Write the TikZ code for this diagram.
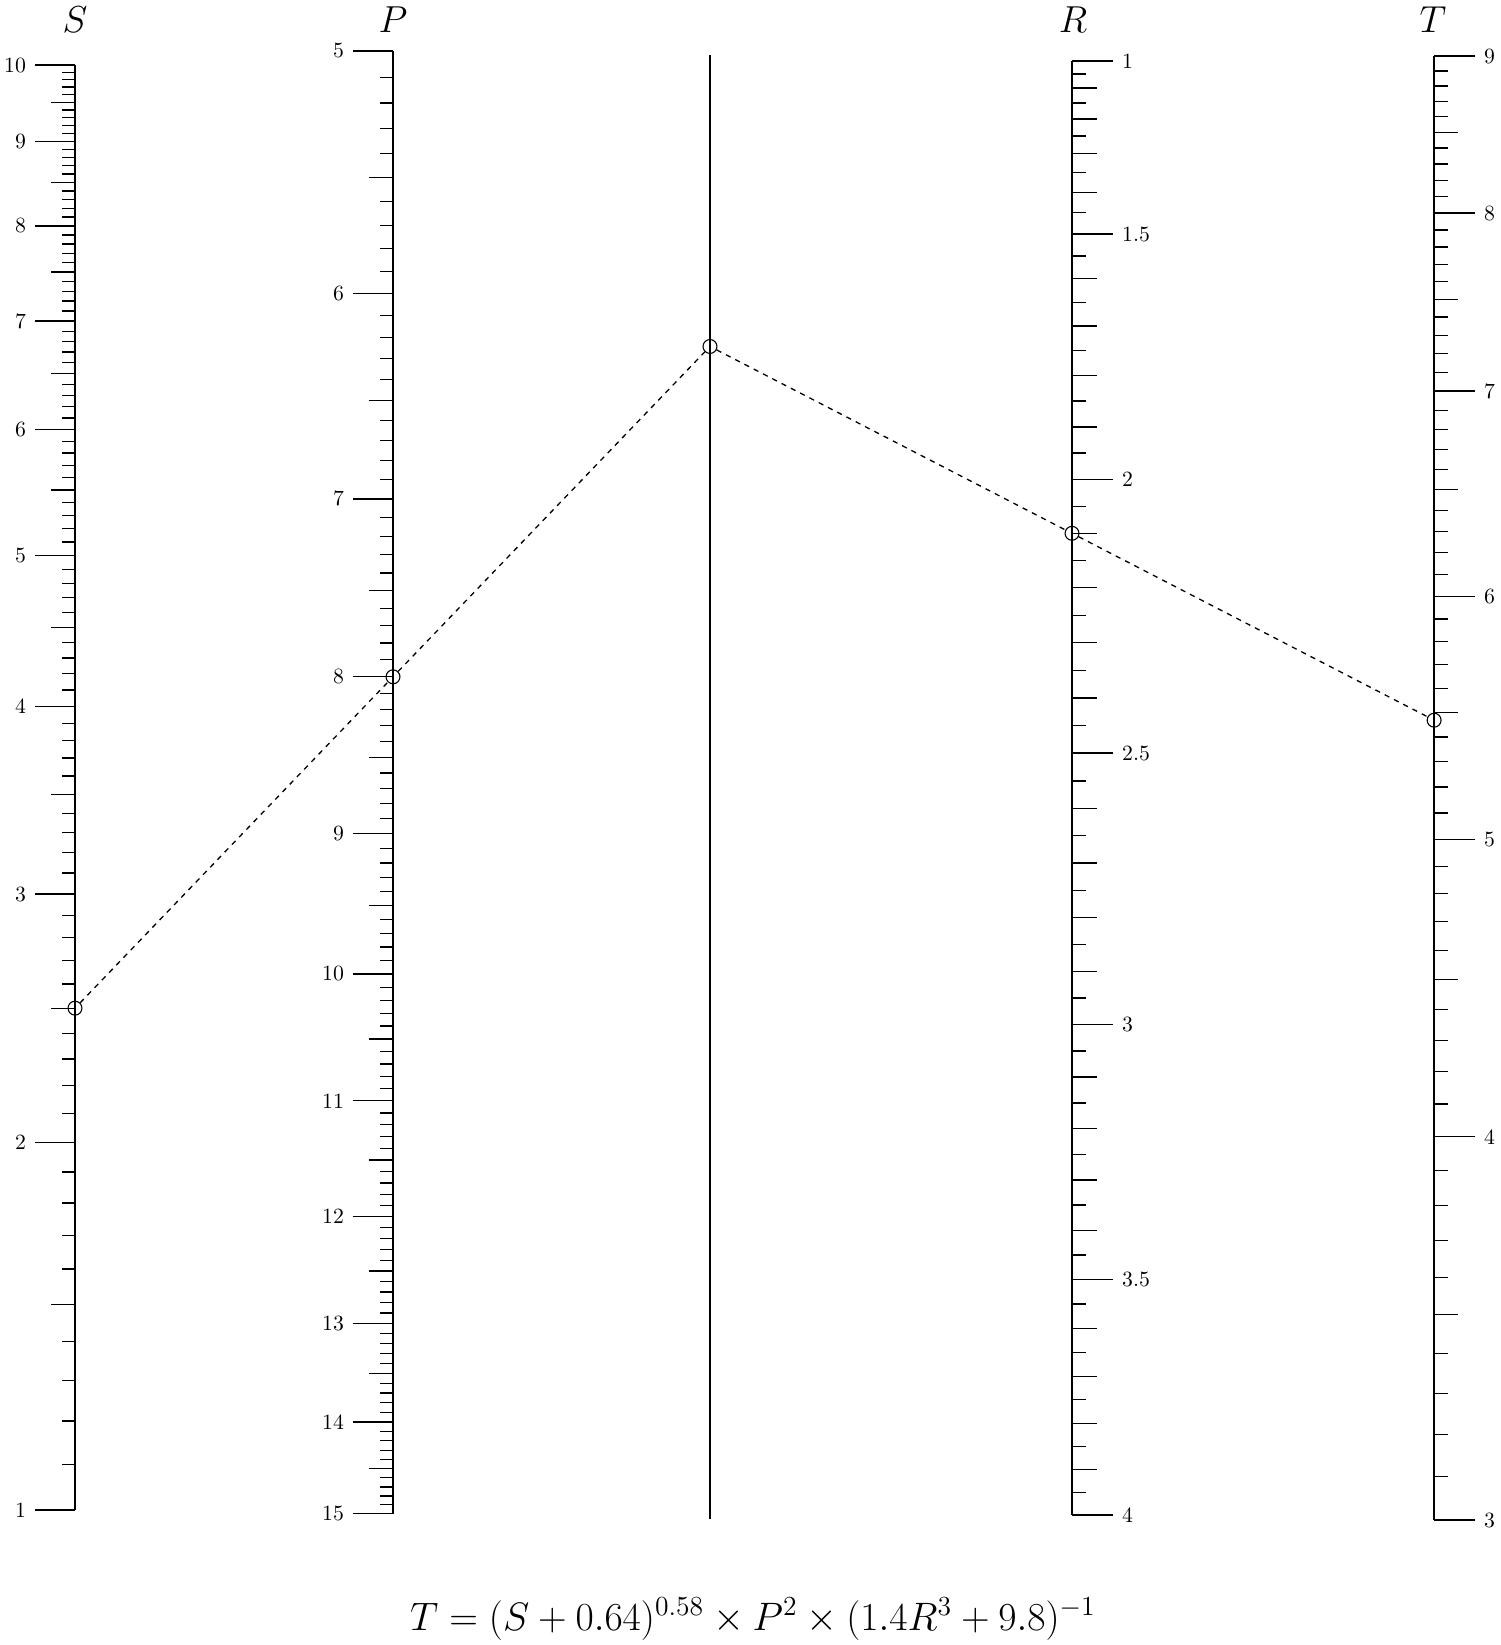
\documentclass[tikz,border=0pt]{standalone}
\usepackage{tikz}
\usepackage{graphicx}

% scale positions (pixels, measured downward)
\pgfmathdeclarefunction{ys}{1}{\pgfmathparse{1510-(log10(#1+0.64)-0.21484)/0.81210*1445}}
\pgfmathdeclarefunction{yp}{1}{\pgfmathparse{51+(log10(#1)-0.69897)/0.47712*1463}}
\pgfmathdeclarefunction{yr}{1}{\pgfmathparse{61+(log10(1.4*#1^3+9.8)-1.04922)/0.94817*1454}}
\pgfmathdeclarefunction{yt}{1}{\pgfmathparse{1520-(log10(#1)-0.47712)/0.47712*1464}}

\tikzset{
  axisline/.style={line width=0.9pt},
  tickmark/.style={line width=0.6pt},
  ticklabel/.style={font=\normalsize, inner sep=4pt},
  scalename/.style={font=\LARGE},
  guide/.style={line width=0.6pt, dash pattern=on 2.4pt off 2.4pt},
  dot/.style={circle, draw, line width=0.5pt, minimum size=6.4pt, inner sep=0pt},
}

\begin{document}
\begin{tikzpicture}[x=0.46pt, y=-0.46pt]
  \useasboundingbox (0,0) rectangle (1500,1645);

  % Axis ends
  \coordinate (s-bot) at (75,{ys(1)});
  \coordinate (s-top) at (75,{ys(10)});
  \coordinate (p-top) at (393,{yp(5)});
  \coordinate (p-bot) at (393,{yp(15)});
  \coordinate (m-top) at (710,55);
  \coordinate (m-bot) at (710,1519);
  \coordinate (r-top) at (1072,{yr(1)});
  \coordinate (r-bot) at (1072,{yr(4)});
  \coordinate (t-top) at (1434,{yt(9)});
  \coordinate (t-bot) at (1434,{yt(3)});

  % Axis names
  \node[scalename] (s-name) at (75,20) {$S$};
  \node[scalename] (p-name) at (393,20) {$P$};
  \node[scalename] (r-name) at (1073,20) {$R$};
  \node[scalename] (t-name) at (1433,20) {$T$};

  % S scale: 1 to 10, step 0.1
  \draw[axisline] (s-bot) -- (s-top);
  \foreach \i in {10,...,100} {
    \pgfmathsetmacro\ticklen{mod(\i,10)==0 ? 40 : (mod(\i,5)==0 ? 24 : 13)}
    \draw[tickmark] (75,{ys(\i/10)}) -- ++(-\ticklen,0);
  }
  \foreach \v in {1,...,10}
    \node[ticklabel, left] (s-\v) at (35,{ys(\v)}) {\v};

  % P scale: 5 to 15, step 0.1
  \draw[axisline] (p-top) -- (p-bot);
  \foreach \i in {50,...,150} {
    \pgfmathsetmacro\ticklen{mod(\i,10)==0 ? 40 : (mod(\i,5)==0 ? 24 : 13)}
    \draw[tickmark] (393,{yp(\i/10)}) -- ++(-\ticklen,0);
  }
  \foreach \v in {5,...,15}
    \node[ticklabel, left] (p-\v) at (353,{yp(\v)}) {\v};

  % Middle (pivot) line
  \draw[axisline] (m-top) -- (m-bot);

  % R scale: 1 to 4, step 0.05
  \draw[axisline] (r-top) -- (r-bot);
  \foreach \i in {20,...,80} {
    \pgfmathsetmacro\ticklen{mod(\i,10)==0 ? 41 : (mod(\i,2)==0 ? 25 : 14)}
    \draw[tickmark] (1072,{yr(\i/20)}) -- ++(\ticklen,0);
  }
  \foreach \v [count=\k] in {1,1.5,2,2.5,3,3.5,4}
    \node[ticklabel, right] (r-\k) at (1113,{yr(\v)}) {\v};

  % T scale: 3 to 9, step 0.1
  \draw[axisline] (t-top) -- (t-bot);
  \foreach \i in {30,...,90} {
    \pgfmathsetmacro\ticklen{mod(\i,10)==0 ? 41 : (mod(\i,5)==0 ? 24 : 14)}
    \draw[tickmark] (1434,{yt(\i/10)}) -- ++(\ticklen,0);
  }
  \foreach \v in {3,...,9}
    \node[ticklabel, right] (t-\v) at (1475,{yt(\v)}) {\v};

  % Example reading: S = 2.5, P = 8, R = 2.1
  \coordinate (s-val) at (75,{ys(2.5)});
  \coordinate (p-val) at (393,{yp(8)});
  \coordinate (m-val) at (intersection of s-val--p-val and m-top--m-bot);
  \coordinate (r-val) at (1072,{yr(2.1)});
  \coordinate (t-val) at (intersection of m-val--r-val and t-top--t-bot);
  \foreach \n in {s,p,m,r,t}
    \node[dot] (\n-dot) at (\n-val) {};
  \draw[guide] (s-dot) -- (p-dot) -- (m-dot) -- (r-dot) -- (t-dot);

  % Formula
  \node[font=\LARGE, anchor=base] (formula) at (753,1630)
    {\scalebox{1.057}{$T = (S+0.64)^{0.58}\times P^2\times(1.4R^3+9.8)^{-1}$}};

\end{tikzpicture}
\end{document}
